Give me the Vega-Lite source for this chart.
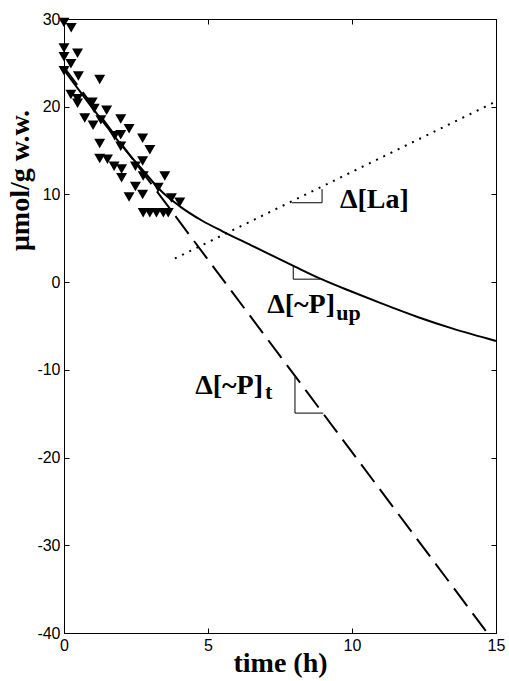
{
  "$schema": "https://vega.github.io/schema/vega-lite/v6.json",
  "width": 432,
  "height": 614,
  "autosize": "none",
  "padding": {"left": 64, "top": 19, "right": 13, "bottom": 48},
  "background": "white",
  "config": {
    "view": {"stroke": "black", "strokeWidth": 1},
    "axis": {
      "grid": false,
      "domainColor": "black",
      "tickColor": "black",
      "labelColor": "black",
      "titleColor": "black",
      "labelFont": "Liberation Sans",
      "labelFontSize": 16,
      "titleFont": "Liberation Serif",
      "titleFontWeight": "bold",
      "titleFontSize": 28,
      "tickSize": -5,
      "labelPadding": 9,
      "labelFlush": false,
      "labelExpr": "'' + datum.value"
    }
  },
  "datasets": {
    "pts": [
      {"x": 0, "y": 29.6}, {"x": 0.25, "y": 29}, {"x": 0, "y": 26.7}, {"x": 0.47, "y": 26.1},
      {"x": 0, "y": 25.7}, {"x": 0.24, "y": 24.9}, {"x": 0, "y": 24.1}, {"x": 0.5, "y": 23.5},
      {"x": 1.24, "y": 23.1}, {"x": 0.24, "y": 21.4}, {"x": 0.47, "y": 20.9}, {"x": 0.47, "y": 20.4},
      {"x": 0.98, "y": 20.5}, {"x": 1.05, "y": 19.8}, {"x": 1.48, "y": 19.6}, {"x": 0.72, "y": 18.7},
      {"x": 1.01, "y": 17.9}, {"x": 1.28, "y": 18.5}, {"x": 1.97, "y": 18.6}, {"x": 2.26, "y": 17.5},
      {"x": 1.76, "y": 16.7}, {"x": 1.97, "y": 16.8}, {"x": 2.73, "y": 16.4}, {"x": 1.24, "y": 15.8},
      {"x": 1.97, "y": 15.5}, {"x": 2.98, "y": 15.1}, {"x": 1.24, "y": 14.1}, {"x": 1.51, "y": 14.0},
      {"x": 2.73, "y": 13.8}, {"x": 1.74, "y": 13.2}, {"x": 2.0, "y": 12.9}, {"x": 2.48, "y": 13.2},
      {"x": 2.0, "y": 11.9}, {"x": 2.75, "y": 12.1}, {"x": 3.5, "y": 12.1}, {"x": 2.48, "y": 10.9},
      {"x": 3.27, "y": 10.8}, {"x": 2.73, "y": 10.0}, {"x": 2.26, "y": 9.7}, {"x": 3.73, "y": 9.6},
      {"x": 4.02, "y": 9.1}, {"x": 2.75, "y": 7.9}, {"x": 2.98, "y": 7.9}, {"x": 3.21, "y": 7.9},
      {"x": 3.45, "y": 7.9}, {"x": 3.62, "y": 7.9}
    ],
    "solid": [
      {"x": 0, "y": 24.2}, {"x": 1, "y": 19.8}, {"x": 2, "y": 15.6}, {"x": 2.7, "y": 12.9},
      {"x": 3.4, "y": 10.3}, {"x": 4, "y": 8.7}, {"x": 4.8, "y": 7.0}, {"x": 5.5, "y": 5.8},
      {"x": 6.5, "y": 4.2}, {"x": 8, "y": 1.8}, {"x": 8.9, "y": 0.4}, {"x": 10, "y": -1.1},
      {"x": 11, "y": -2.4}, {"x": 12.3, "y": -4.0}, {"x": 13.5, "y": -5.3}, {"x": 15, "y": -6.7}
    ],
    "dashed": [{"x": 0, "y": 24.5}, {"x": 14.7, "y": -40}],
    "dotted": [{"x": 3.85, "y": 2.7}, {"x": 15, "y": 20.6}],
    "segs": [
      {"x": 7.92, "y": 9.05, "x2": 8.96, "y2": 9.05},
      {"x": 8.96, "y": 9.05, "x2": 8.96, "y2": 10.6},
      {"x": 7.96, "y": 0.34, "x2": 8.89, "y2": 0.34},
      {"x": 7.96, "y": 0.34, "x2": 7.96, "y2": 1.87},
      {"x": 8.02, "y": -10.77, "x2": 8.02, "y2": -14.93},
      {"x": 8.02, "y": -14.93, "x2": 9.0, "y2": -14.93}
    ],
    "mainLeft": [{"x": 9.58, "y": 8.45, "label": "Δ[La]"}],
    "mainRight": [
      {"x": 9.41, "y": -3.52, "label": "Δ[~P]"},
      {"x": 6.91, "y": -12.75, "label": "Δ[~P]"}
    ],
    "subs": [
      {"x": 9.45, "y": -4.3, "label": "up"},
      {"x": 6.98, "y": -13.3, "label": "t"}
    ]
  },
  "layer": [
    {
      "data": {"name": "pts"},
      "mark": {"type": "point", "shape": "triangle-down", "filled": true, "color": "black", "opacity": 1, "size": 120},
      "encoding": {
        "x": {"field": "x", "type": "quantitative", "scale": {"domain": [0, 15], "nice": false, "zero": false},
          "axis": {"orient": "bottom", "values": [0, 5, 10, 15], "title": "time (h)", "titleY": 38, "titleBaseline": "alphabetic"}},
        "y": {"field": "y", "type": "quantitative", "scale": {"domain": [-40, 30], "nice": false, "zero": false},
          "axis": {"orient": "left", "values": [-40, -30, -20, -10, 0, 10, 20, 30], "title": "μmol/g w.w.", "titleX": -36, "titleY": 161, "titleAngle": -90, "titleAlign": "center", "titleBaseline": "alphabetic"}}
      }
    },
    {
      "data": {"name": "solid"},
      "mark": {"type": "line", "color": "black", "strokeWidth": 2, "interpolate": "monotone"},
      "encoding": {
        "x": {"field": "x", "type": "quantitative", "axis": null},
        "y": {"field": "y", "type": "quantitative", "axis": null}
      }
    },
    {
      "data": {"name": "dashed"},
      "mark": {"type": "line", "color": "black", "strokeWidth": 2, "strokeDash": [22, 9]},
      "encoding": {
        "x": {"field": "x", "type": "quantitative", "axis": null},
        "y": {"field": "y", "type": "quantitative", "axis": null}
      }
    },
    {
      "data": {"name": "dotted"},
      "mark": {"type": "line", "color": "black", "strokeWidth": 2, "strokeDash": [2, 6]},
      "encoding": {
        "x": {"field": "x", "type": "quantitative",
          "axis": {"orient": "top", "values": [0, 5, 10, 15], "labels": false, "title": null}},
        "y": {"field": "y", "type": "quantitative",
          "axis": {"orient": "right", "values": [-40, -30, -20, -10, 0, 10, 20, 30], "labels": false, "title": null}}
      }
    },
    {
      "data": {"name": "segs"},
      "mark": {"type": "rule", "color": "black", "strokeWidth": 1},
      "encoding": {
        "x": {"field": "x", "type": "quantitative", "axis": null},
        "y": {"field": "y", "type": "quantitative", "axis": null},
        "x2": {"field": "x2"},
        "y2": {"field": "y2"}
      }
    },
    {
      "data": {"name": "mainLeft"},
      "mark": {"type": "text", "font": "Liberation Serif", "fontWeight": "bold", "fontSize": 28, "align": "left", "baseline": "alphabetic", "color": "black"},
      "encoding": {
        "x": {"field": "x", "type": "quantitative", "axis": null},
        "y": {"field": "y", "type": "quantitative", "axis": null},
        "text": {"field": "label"}
      }
    },
    {
      "data": {"name": "mainRight"},
      "mark": {"type": "text", "font": "Liberation Serif", "fontWeight": "bold", "fontSize": 28, "align": "right", "baseline": "alphabetic", "color": "black"},
      "encoding": {
        "x": {"field": "x", "type": "quantitative", "axis": null},
        "y": {"field": "y", "type": "quantitative", "axis": null},
        "text": {"field": "label"}
      }
    },
    {
      "data": {"name": "subs"},
      "mark": {"type": "text", "font": "Liberation Serif", "fontWeight": "bold", "fontSize": 22, "align": "left", "baseline": "alphabetic", "color": "black"},
      "encoding": {
        "x": {"field": "x", "type": "quantitative", "axis": null},
        "y": {"field": "y", "type": "quantitative", "axis": null},
        "text": {"field": "label"}
      }
    }
  ],
  "resolve": {"axis": {"x": "independent", "y": "independent"}}
}
